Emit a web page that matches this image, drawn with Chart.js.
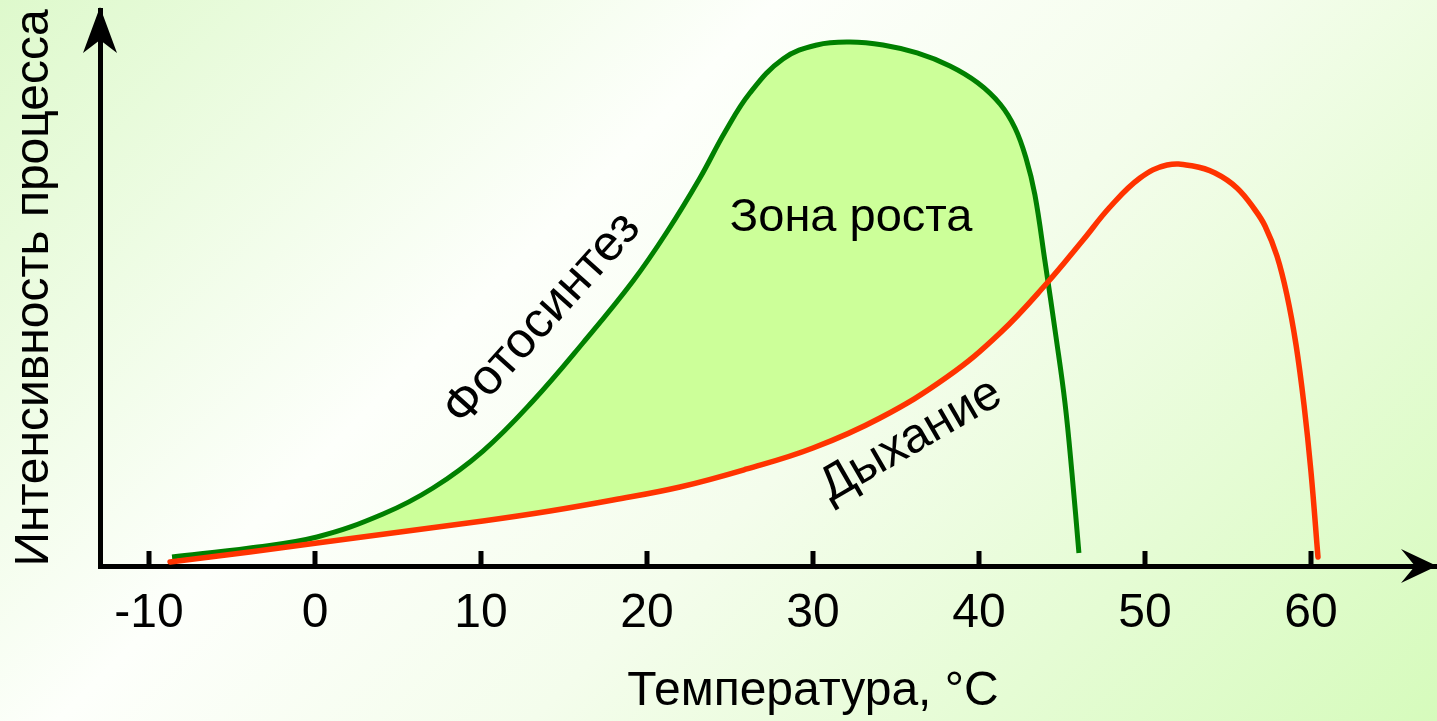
<!DOCTYPE html>
<html lang="ru">
<head>
<meta charset="utf-8">
<title>Фотосинтез и дыхание</title>
<script src="https://cdn.jsdelivr.net/npm/chart.js@4.4.1/dist/chart.umd.min.js"></script>
<style>
    html, body { margin: 0; padding: 0; }
    body {
        width: 1437px;
        height: 721px;
        overflow: hidden;
        background: linear-gradient(135deg, #def9cc 0%, #fdfffb 36%, #f4fdec 58%, #d6fbbc 100%);
    }
    canvas { display: block; }
</style>
</head>
<body>
<canvas id="temp-chart" width="1437" height="721"></canvas>
<script>
    "use strict";

    // Фотосинтез: температура (°C) и интенсивность
    var photoTemp  = [-8.61, -3.92, 0.12, 4.10, 7.11, 10.12, 13.13, 16.14, 19.16, 21.20, 23.19, 24.70, 26.20, 28.19, 30.24, 32.23, 34.22, 36.27, 38.25, 39.94, 41.27, 42.17, 42.83, 43.37, 43.98, 44.64, 45.18, 45.60, 46.02];
    var photoValue = [1.62, 3.24, 5.22, 9.35, 14.03, 20.68, 29.68, 40.11, 51.26, 60.07, 69.78, 78.06, 85.07, 91.19, 93.71, 94.24, 93.71, 92.27, 89.93, 86.87, 83.09, 78.78, 73.38, 66.73, 54.68, 41.19, 29.32, 16.73, 2.34];

    // Дыхание
    var respTemp  = [-8.73, -3.92, 0.12, 5.12, 10.12, 14.16, 17.95, 21.99, 26.02, 30.00, 34.04, 38.07, 41.27, 44.10, 46.27, 47.89, 49.70, 51.33, 52.89, 54.22, 55.54, 56.63, 57.23, 57.95, 58.55, 59.10, 59.58, 60.00, 60.42];
    var respValue = [0.72, 2.52, 4.14, 6.12, 8.09, 9.89, 11.87, 14.21, 17.45, 21.22, 26.62, 33.99, 41.91, 50.90, 58.63, 64.57, 69.78, 72.12, 71.94, 70.68, 67.99, 64.03, 61.15, 55.76, 48.74, 39.75, 28.96, 16.91, 1.62];

    // Деления оси температуры
    var tickValues = [-10, 0, 10, 20, 30, 40, 50, 60];

    var xTitle = "Температура, °C";
    var yTitle = "Интенсивность процесса";

    var FONT = "'Liberation Sans', Arial, sans-serif";

    // Подписи на поле графика
    var notes = [
        {text: "Зона роста", x: 32.3, y: 62.6, angle: 0, size: 47},
        {text: "Фотосинтез", x: 13.7, y: 44.4, angle: -48, size: 50},
        {text: "Дыхание", x: 35.9, y: 22.6, angle: -30, size: 49}
    ];

    function toPoints(xs, ys) {
        return xs.map(function (t, i) {
            return {x: t, y: ys[i]};
        });
    }

    // Стрелки, засечки и подписи
    var decor = {
        id: 'decor',
        afterDatasetsDraw: function (chart) {
            var ctx = chart.ctx, x = chart.scales.x, y = chart.scales.y;
            ctx.save();
            ctx.fillStyle = '#000';
            ctx.textAlign = 'center';
            ctx.textBaseline = 'middle';
            notes.forEach(function (n) {
                ctx.save();
                ctx.font = n.size + "px " + FONT;
                ctx.translate(x.getPixelForValue(n.x), y.getPixelForValue(n.y));
                ctx.rotate(n.angle * Math.PI / 180);
                ctx.fillText(n.text, 0, 0);
                ctx.restore();
            });
            ctx.restore();
        },
        afterDraw: function (chart) {
            var ctx = chart.ctx, x = chart.scales.x;
            var area = chart.chartArea;
            ctx.save();
            ctx.fillStyle = '#000';

            // засечки над осью
            tickValues.forEach(function (v) {
                var px = x.getPixelForValue(v);
                ctx.fillRect(Math.round(px) - 2.5, area.bottom - 15, 5, 15);
            });

            // стрелка оси X
            ctx.beginPath();
            ctx.moveTo(area.right, area.bottom);
            ctx.lineTo(area.right - 36, area.bottom - 17);
            ctx.lineTo(area.right - 22, area.bottom);
            ctx.lineTo(area.right - 36, area.bottom + 17);
            ctx.closePath();
            ctx.fill();

            // стрелка оси Y
            ctx.beginPath();
            ctx.moveTo(area.left, area.top - 3);
            ctx.lineTo(area.left - 17, area.top + 43);
            ctx.lineTo(area.left, area.top + 30);
            ctx.lineTo(area.left + 17, area.top + 43);
            ctx.closePath();
            ctx.fill();

            // подпись оси X
            ctx.font = "48px " + FONT;
            ctx.textAlign = 'center';
            ctx.textBaseline = 'middle';
            ctx.fillText(xTitle, x.getPixelForValue(30), 692);
            ctx.restore();
        }
    };

    var ctx1 = document.getElementById('temp-chart').getContext('2d');
    var myChart1 = new Chart(ctx1, {
        type: 'line',
        data: {
            datasets: [{
                    label: "Фотосинтез",
                    data: toPoints(photoTemp, photoValue),
                    borderColor: '#008000',
                    borderWidth: 5,
                    pointRadius: 0,
                    tension: 0.4,
                    fill: {target: 1, above: '#ccff99', below: 'rgba(0, 0, 0, 0)'}
                },
                {
                    label: "Дыхание",
                    data: toPoints(respTemp, respValue),
                    borderColor: '#ff3300',
                    borderWidth: 5.5,
                    borderCapStyle: 'round',
                    pointRadius: 0,
                    tension: 0.4,
                    fill: false,
                    order: -1
                }
            ]
        },
        options: {
            responsive: false,
            animation: false,
            devicePixelRatio: 1,
            layout: {padding: {top: 10, right: 0, bottom: 0, left: 0}},
            plugins: {
                legend: {display: false},
                tooltip: {enabled: false}
            },
            scales: {
                x: {
                    type: 'linear',
                    min: -12.95,
                    max: 67.59,
                    grid: {display: false, drawTicks: false},
                    border: {display: true, color: '#000', width: 5},
                    afterBuildTicks: function (s) {
                        s.ticks = tickValues.map(function (v) { return {value: v}; });
                    },
                    afterFit: function (s) { s.height = 155; },
                    ticks: {
                        color: '#000',
                        font: {family: FONT, size: 48},
                        padding: 19,
                        maxRotation: 0,
                        autoSkip: false
                    }
                },
                y: {
                    min: 0,
                    max: 100,
                    grid: {display: false, drawTicks: false},
                    border: {display: true, color: '#000', width: 5},
                    ticks: {display: false},
                    afterFit: function (s) { s.width = 100; },
                    title: {
                        display: true,
                        text: yTitle,
                        color: '#000',
                        font: {family: FONT, size: 48},
                        padding: {top: 6, bottom: 0}
                    }
                }
            }
        },
        plugins: [decor]
    });
</script>
</body>
</html>
